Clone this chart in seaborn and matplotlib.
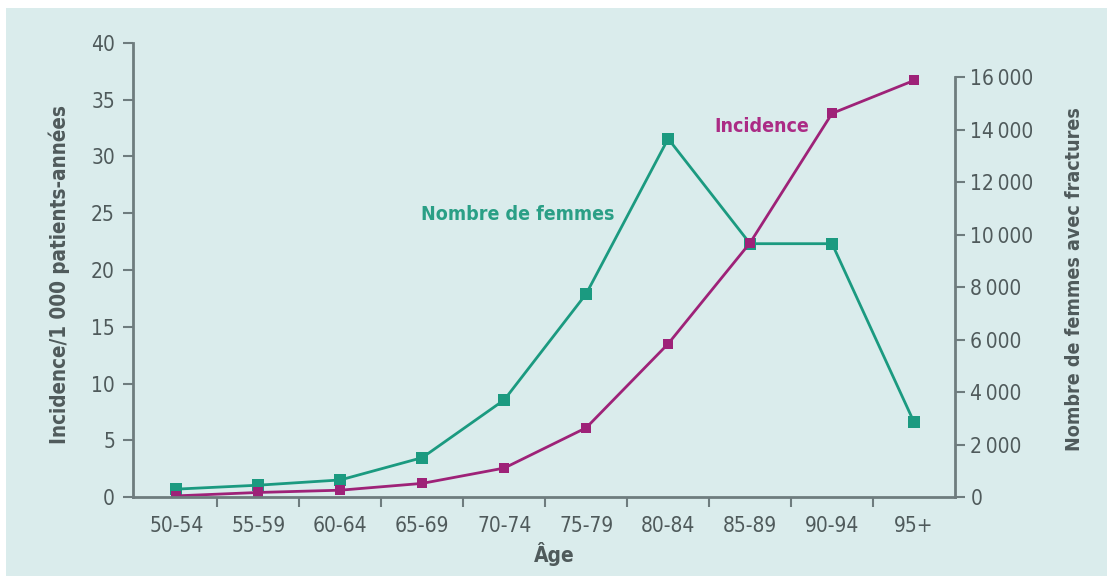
import pandas as pd
import seaborn as sns
import matplotlib.pyplot as plt
from matplotlib.patches import Rectangle
from matplotlib.ticker import FixedLocator, FuncFormatter

# data
ages = ['50-54', '55-59', '60-64', '65-69', '70-74', '75-79', '80-84', '85-89', '90-94', '95+']
incidence = [0.1, 0.4, 0.6, 1.2, 2.55, 6.1, 13.5, 22.4, 33.8, 36.7]
nb_femmes = [300, 450, 650, 1500, 3700, 7740, 13650, 9650, 9650, 2850]

green = '#1b9a80'
magenta = '#9e2278'
grey = '#6e7c7e'
txt = '#4f5a5b'
bg = '#daecec'

sns.set_style('white')
plt.rcParams['font.family'] = ['DejaVu Sans']
plt.rcParams['font.stretch'] = 'condensed'

df = pd.DataFrame({'age': ages, 'incidence': incidence, 'femmes': nb_femmes})

fig = plt.figure(figsize=(11.07, 5.76), dpi=100)
fig.patch.set_facecolor('white')
fig.patches.append(Rectangle((6 / 1107, 0), 1, 1 - 8 / 576, transform=fig.transFigure,
                             facecolor=bg, edgecolor='none', zorder=-10))
ax = fig.add_axes([133 / 1107, 1 - 497 / 576, (955 - 133) / 1107, (497 - 43) / 576])
ax2 = ax.twinx()
for a in (ax, ax2):
    a.set_facecolor('none')

sns.lineplot(data=df, x='age', y='femmes', ax=ax2, color=green, marker='s',
             markersize=8, markeredgewidth=0, linewidth=2)
sns.lineplot(data=df, x='age', y='incidence', ax=ax, color=magenta, marker='s',
             markersize=7, markeredgewidth=0, linewidth=2)
ax.set_zorder(ax2.get_zorder() + 1)

ax.set_xlim(-0.53, 9.5)
ax.set_ylim(0, 40)
ax2.set_ylim(0, 16000 * 454 / 420)

ax.set_yticks(range(0, 41, 5))
ax2.set_yticks(range(0, 16001, 2000))
ax2.yaxis.set_major_formatter(FuncFormatter(lambda v, p: f'{int(v):,}'.replace(',', '\u2009') if v >= 1000 else f'{int(v)}'))
ax.set_xticks(range(len(ages)))
ax.set_xticklabels(ages)
ax.xaxis.set_minor_locator(FixedLocator([i + 0.5 for i in range(9)]))

for a in (ax, ax2):
    for s in a.spines.values():
        s.set_visible(False)
ax.spines['left'].set_visible(True)
ax.spines['bottom'].set_visible(True)
ax2.spines['right'].set_visible(True)
ax.spines['left'].set_bounds(0, 40)
ax2.spines['right'].set_bounds(0, 16000)
for s in (ax.spines['left'], ax.spines['bottom'], ax2.spines['right']):
    s.set_color(grey)
    s.set_linewidth(2)

ax.tick_params(axis='y', direction='out', length=7, width=1.5, color=grey,
               labelsize=15, labelcolor=txt, left=True, pad=6)
ax.tick_params(axis='x', which='major', length=0, labelsize=15, labelcolor=txt, pad=14)
ax.tick_params(axis='x', which='minor', direction='out', length=7, width=1.5, color=grey, bottom=True)
ax2.tick_params(axis='y', direction='out', length=7, width=1.5, color=grey,
                labelsize=15, labelcolor=txt, right=True, pad=4)

ax.set_xlabel('Âge', fontsize=15, fontweight='bold', color=txt)
ax.xaxis.set_label_coords(0.513, -0.100)
ax.set_ylabel('Incidence/1 000 patients-années', fontsize=14.8, fontweight='bold', color=txt)
ax.yaxis.set_label_coords(-0.077, 0.489)
ax2.set_ylabel('Nombre de femmes avec fractures', fontsize=14.1, fontweight='bold', color=txt, rotation=90)
ax2.yaxis.set_label_coords(1.134, 0.48)

ax.text(4.165, 24.85, 'Nombre de femmes', color='#2a9f86', fontsize=14, fontweight='bold', ha='center', va='center')
ax.text(7.14, 32.6, 'Incidence', color='#ab2b85', fontsize=14, fontweight='bold', ha='center', va='center')

fig.savefig('out.png', dpi=100, facecolor=fig.get_facecolor())
